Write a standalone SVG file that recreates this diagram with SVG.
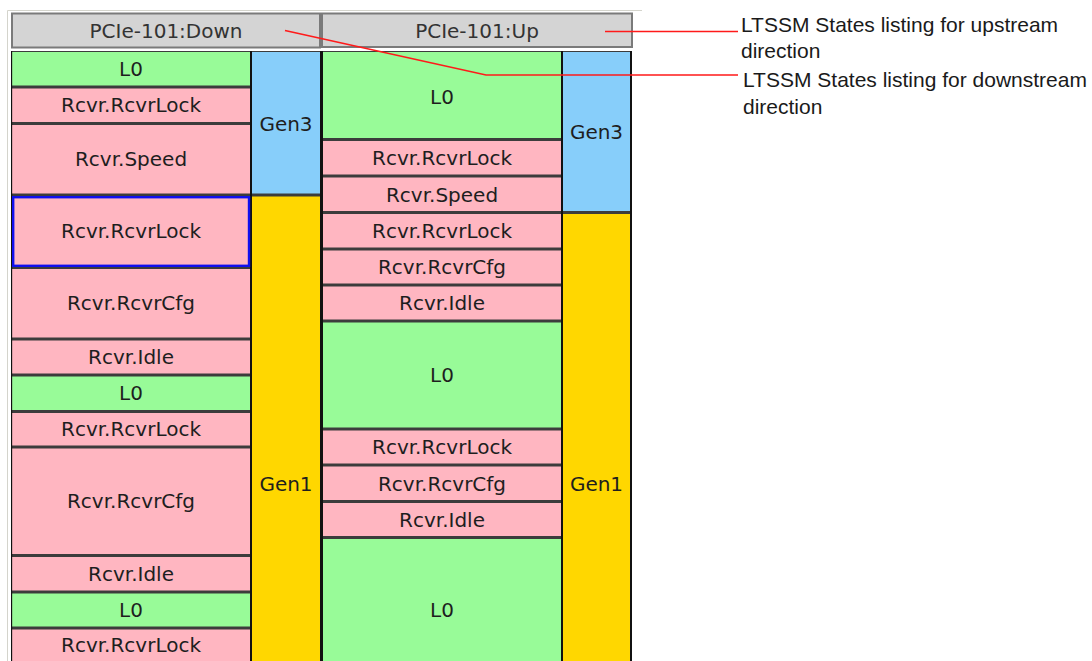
<svg xmlns="http://www.w3.org/2000/svg" width="1092" height="661" viewBox="0 0 1092 661">
<style>
.cell{font-family:"DejaVu Sans",sans-serif;font-size:20px;fill:#1e1e1e;text-anchor:middle}
.hdr{font-family:"DejaVu Sans",sans-serif;font-size:20px;fill:#333;text-anchor:middle}
.ann{font-family:"Liberation Sans",Arial,sans-serif;font-size:21px;fill:#1a1a1a}
.g{fill:#98FB98}
.p{fill:#FFB6C1}
.b{fill:#87CEFA}
.y{fill:#FFD700}
.h{fill:#D4D4D4;stroke:#7a7a7a;stroke-width:2}
.red{fill:none;stroke:#ff1a1a;stroke-width:1.6}
</style>
<rect width="1092" height="661" fill="#fff"/>
<path d="M7.5 661V10.5H642" fill="none" stroke="#d4d4cc" stroke-width="1"/>
<!-- table background -->
<rect x="11" y="51" width="621" height="610" fill="#3c3c3c"/>
<g fill="#111">
<rect x="11" y="51" width="1.2" height="610"/>
<rect x="250" y="51" width="2" height="610"/>
<rect x="320" y="51" width="3" height="610"/>
<rect x="561" y="51" width="2" height="610"/>
<rect x="630" y="51" width="2" height="610"/>
</g>
<!-- headers -->
<g id="hdr-down"><rect class="h" x="12" y="13.5" width="308" height="34"/><text class="hdr" x="166" y="37.5">PCIe-101:Down</text></g>
<g id="hdr-up"><rect class="h" x="322" y="13.5" width="310" height="33.5"/><text class="hdr" x="477" y="37.5">PCIe-101:Up</text></g>
<!-- left column states -->
<g id="d1"><rect class="g" x="12.2" y="52" width="237.8" height="33.5"/><text class="cell" x="131" y="76">L0</text></g>
<g id="d2"><rect class="p" x="12.2" y="88.5" width="237.8" height="33.5"/><text class="cell" x="131" y="112">Rcvr.RcvrLock</text></g>
<g id="d3"><rect class="p" x="12.2" y="125" width="237.8" height="68.5"/><text class="cell" x="131" y="166">Rcvr.Speed</text></g>
<g id="d4"><rect class="p" x="13.2" y="197.2" width="235.8" height="68.6" stroke="#1010ee" stroke-width="2.4"/><text class="cell" x="131" y="238">Rcvr.RcvrLock</text></g>
<g id="d5"><rect class="p" x="12.2" y="269" width="237.8" height="68.5"/><text class="cell" x="131" y="310">Rcvr.RcvrCfg</text></g>
<g id="d6"><rect class="p" x="12.2" y="340.5" width="237.8" height="33"/><text class="cell" x="131" y="364">Rcvr.Idle</text></g>
<g id="d7"><rect class="g" x="12.2" y="376.5" width="237.8" height="33.5"/><text class="cell" x="131" y="400">L0</text></g>
<g id="d8"><rect class="p" x="12.2" y="413" width="237.8" height="32.5"/><text class="cell" x="131" y="436">Rcvr.RcvrLock</text></g>
<g id="d9"><rect class="p" x="12.2" y="448.5" width="237.8" height="105.5"/><text class="cell" x="131" y="508">Rcvr.RcvrCfg</text></g>
<g id="d10"><rect class="p" x="12.2" y="557" width="237.8" height="33.5"/><text class="cell" x="131" y="580.5">Rcvr.Idle</text></g>
<g id="d11"><rect class="g" x="12.2" y="593.5" width="237.8" height="33"/><text class="cell" x="131" y="617">L0</text></g>
<g id="d12"><rect class="p" x="12.2" y="629.5" width="237.8" height="40"/><text class="cell" x="131" y="652">Rcvr.RcvrLock</text></g>
<!-- left speed column -->
<g id="dg3"><rect class="b" x="252" y="52" width="68" height="141.5"/><text class="cell" x="286" y="131">Gen3</text></g>
<g id="dg1"><rect class="y" x="252" y="196.5" width="68" height="470"/><text class="cell" x="286" y="491">Gen1</text></g>
<!-- right column states -->
<g id="u1"><rect class="g" x="323" y="52" width="238" height="86"/><text class="cell" x="442" y="103.5">L0</text></g>
<g id="u2"><rect class="p" x="323" y="141" width="238" height="33.5"/><text class="cell" x="442" y="165">Rcvr.RcvrLock</text></g>
<g id="u3"><rect class="p" x="323" y="177.5" width="238" height="33.5"/><text class="cell" x="442" y="201.5">Rcvr.Speed</text></g>
<g id="u4"><rect class="p" x="323" y="214" width="238" height="33.5"/><text class="cell" x="442" y="238">Rcvr.RcvrLock</text></g>
<g id="u5"><rect class="p" x="323" y="250.5" width="238" height="33"/><text class="cell" x="442" y="274">Rcvr.RcvrCfg</text></g>
<g id="u6"><rect class="p" x="323" y="286.5" width="238" height="33"/><text class="cell" x="442" y="310">Rcvr.Idle</text></g>
<g id="u7"><rect class="g" x="323" y="322.5" width="238" height="105"/><text class="cell" x="442" y="382">L0</text></g>
<g id="u8"><rect class="p" x="323" y="430.5" width="238" height="33"/><text class="cell" x="442" y="454">Rcvr.RcvrLock</text></g>
<g id="u9"><rect class="p" x="323" y="466.5" width="238" height="33.5"/><text class="cell" x="442" y="490.5">Rcvr.RcvrCfg</text></g>
<g id="u10"><rect class="p" x="323" y="503" width="238" height="33"/><text class="cell" x="442" y="526.5">Rcvr.Idle</text></g>
<g id="u11"><rect class="g" x="323" y="539" width="238" height="130"/><text class="cell" x="442" y="617">L0</text></g>
<!-- right speed column -->
<g id="ug3"><rect class="b" x="563" y="52" width="67" height="159"/><text class="cell" x="596.5" y="139">Gen3</text></g>
<g id="ug1"><rect class="y" x="563" y="214" width="67" height="450"/><text class="cell" x="596.5" y="491">Gen1</text></g>
<!-- annotations -->
<g id="note-up"><text class="ann" x="741" y="32">LTSSM States listing for upstream</text><text class="ann" x="741" y="58">direction</text></g>
<g id="note-down"><text class="ann" x="743" y="87">LTSSM States listing for downstream</text><text class="ann" x="743" y="114">direction</text></g>
<g id="connectors">
<path class="red" d="M605 31.5H738"/>
<path class="red" d="M285 30.5L486 75H738"/>
</g>
</svg>
